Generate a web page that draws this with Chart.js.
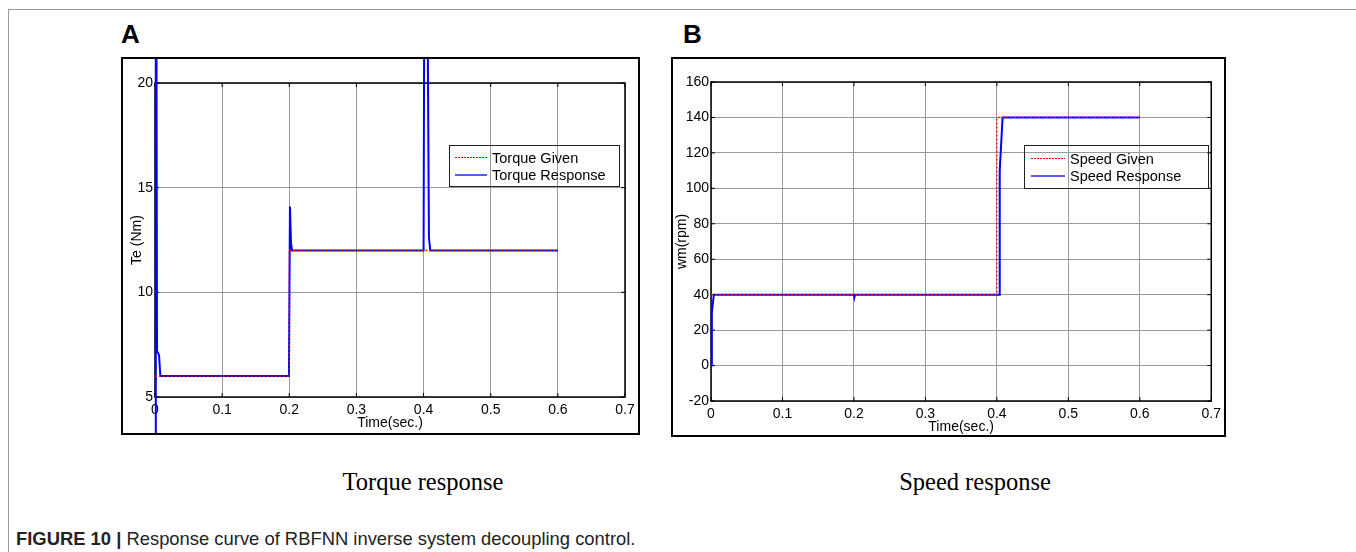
<!DOCTYPE html>
<html>
<head>
<meta charset="utf-8">
<script src="https://cdn.jsdelivr.net/npm/chart.js@4.4.1/dist/chart.umd.min.js"></script>
<style>
body{margin:0;background:#fff;width:1356px;height:552px;position:relative;overflow:hidden;font-family:"Liberation Sans",Arial,sans-serif;color:#000}
#frame{position:absolute;left:8px;top:9px;width:1400px;height:600px;border-top:1px solid #999;border-left:1px solid #999}
canvas{position:absolute}
.box{position:absolute;border:2px solid #000;box-sizing:border-box;pointer-events:none}
.letter{position:absolute;font-weight:bold;font-size:26px;line-height:26px}
.sub{position:absolute;font-family:"Liberation Serif","Times New Roman",serif;font-size:24.5px;width:300px;text-align:center;line-height:26px}
.legend{position:absolute;border:1.5px solid #222;box-sizing:border-box}
.legend .row{position:absolute;left:0;height:16px;font-size:14.5px;line-height:16px;white-space:nowrap}
.legend .smp{position:absolute;top:7px}
#caption{position:absolute;left:16px;top:529px;font-size:18.4px;line-height:20px;color:#222}
</style>
</head>
<body>
<div id="frame"></div>
<div class="letter" style="left:121px;top:21px">A</div>
<div class="letter" style="left:683px;top:21px">B</div>
<canvas id="cA" width="519" height="378" style="left:121px;top:57px"></canvas>
<div class="box" style="left:121px;top:57px;width:519px;height:378px"></div>
<canvas id="cB" width="555" height="380" style="left:671px;top:57px"></canvas>
<div class="box" style="left:671px;top:57px;width:555px;height:380px"></div>
<div id="legA" class="legend" style="left:449px;top:145px;width:171px;height:42px"></div>
<div id="legB" class="legend" style="left:1024px;top:145px;width:185px;height:44px"></div>
<div class="sub" style="left:273px;top:469px">Torque response</div>
<div class="sub" style="left:825px;top:469px">Speed response</div>
<div id="caption"><b>FIGURE 10 |</b> Response curve of RBFNN inverse system decoupling control.</div>
<script>
'use strict'

// values, time in seconds
const torqueLabels = ['Torque Given', 'Torque Response']
const torqueGivenT = [0, 0.2, 0.2, 0.6]
const torqueGivenV = [6, 6, 12, 12]
const torqueRespT = [0, 0.0012, 0.003, 0.006, 0.008, 0.1, 0.1995, 0.201, 0.2025, 0.204, 0.3, 0.4, 0.4012, 0.4055, 0.408, 0.41, 0.6]
const torqueRespV = [-2, 40, 7.2, 7, 6, 6, 6, 14.1, 12.4, 12, 12, 12, 26, 26, 12.6, 12, 12]

const speedLabels = ['Speed Given', 'Speed Response']
const speedGivenT = [0, 0.4, 0.4, 0.6]
const speedGivenV = [40, 40, 140, 140]
const speedRespT = [0, 0.0012, 0.004, 0.2, 0.2006, 0.2015, 0.4035, 0.404, 0.408, 0.6]
const speedRespV = [0, 30, 40, 40, 38.5, 40, 40, 110, 140, 140]

const timeMin = 0, timeMax = 0.7, timeStep = 0.1
const torqueMin = 5, torqueMax = 20, torqueStep = 5
const speedMin = -20, speedMax = 160, speedStep = 20

const givenColor = '#ff0000'
const respColor = '#0000ff'

Chart.defaults.font.family = '"Liberation Sans", Arial, sans-serif'
Chart.defaults.font.size = 14
Chart.defaults.color = '#000'

function toPoints(t, v) {
    return t.map((x, i) => ({x: x, y: v[i]}))
}

// black box round the plot area and the small inner tick marks
const framePlugin = {
    id: 'frame',
    beforeDatasetsDraw(chart) {
        const ctx = chart.ctx
        const a = chart.chartArea
        const sx = chart.scales.x, sy = chart.scales.y
        ctx.save()
        ctx.strokeStyle = '#000'
        ctx.lineWidth = 1.5
        ctx.strokeRect(a.left, a.top, a.right - a.left, a.bottom - a.top)
        ctx.lineWidth = 1
        ctx.beginPath()
        sx.ticks.forEach(t => {
            const p = sx.getPixelForValue(t.value)
            ctx.moveTo(p, a.top); ctx.lineTo(p, a.top + 4)
            ctx.moveTo(p, a.bottom); ctx.lineTo(p, a.bottom - 4)
        })
        sy.ticks.forEach(t => {
            const p = sy.getPixelForValue(t.value)
            ctx.moveTo(a.left, p); ctx.lineTo(a.left + 4, p)
            ctx.moveTo(a.right, p); ctx.lineTo(a.right - 4, p)
        })
        ctx.stroke()
        ctx.restore()
    }
}

function makeChart(id, labels, given, resp, y, geo) {
    return new Chart(document.getElementById(id), {
        type: 'line',
        data: {
            datasets: [{
                label: labels[0],
                data: given,
                borderColor: givenColor,
                borderWidth: 1.2,
                borderDash: [2, 2],
                pointRadius: 0,
                clip: geo.clip
            }, {
                label: labels[1],
                data: resp,
                borderColor: respColor,
                borderWidth: 2,
                pointRadius: 0,
                clip: geo.clip
            }]
        },
        options: {
            responsive: false,
            animation: false,
            devicePixelRatio: 1,
            layout: {padding: {left: 0, top: geo.top, right: geo.right, bottom: 0}},
            plugins: {legend: {display: false}, tooltip: {enabled: false}},
            elements: {line: {tension: 0}},
            scales: {
                x: {
                    type: 'linear',
                    min: timeMin, max: timeMax,
                    ticks: {stepSize: timeStep, padding: 5, maxRotation: 0,
                        callback: v => String(+v.toFixed(1))},
                    grid: {color: '#9a9a9a', lineWidth: 1, drawTicks: false},
                    border: {display: false},
                    title: {display: true, text: 'Time(sec.)', font: {size: 14}, padding: {top: 0, bottom: geo.xTitlePad}},
                    afterFit: s => { s.height = geo.xh }
                },
                y: {
                    min: y.min, max: y.max,
                    ticks: {stepSize: y.step, padding: 2},
                    grid: {color: '#9a9a9a', lineWidth: 1, drawTicks: false},
                    border: {display: false},
                    title: {display: true, text: y.title, font: {size: 14}, padding: {top: geo.yTitlePad, bottom: 0}},
                    afterFit: s => { s.width = geo.yw }
                }
            }
        },
        plugins: [framePlugin]
    })
}

function makeLegend(id, labels, geo) {
    const box = document.getElementById(id)
    const fills = [
        'repeating-linear-gradient(90deg, ' + givenColor + ' 0 2px, transparent 2px 3px)',
        '#5a5aff'
    ]
    const heights = ['1px', '2px']
    labels.forEach((lab, i) => {
        const row = document.createElement('div')
        row.className = 'row'
        row.style.top = geo.rows[i] + 'px'
        row.style.width = '100%'
        const smp = document.createElement('div')
        smp.className = 'smp'
        smp.style.left = geo.smpLeft + 'px'
        smp.style.width = geo.smpWidth + 'px'
        smp.style.height = heights[i]
        smp.style.background = fills[i]
        const txt = document.createElement('span')
        txt.textContent = lab
        txt.style.position = 'absolute'
        txt.style.left = geo.textLeft + 'px'
        row.appendChild(smp)
        row.appendChild(txt)
        box.appendChild(row)
    })
}

makeChart('cA', torqueLabels,
    toPoints(torqueGivenT, torqueGivenV), toPoints(torqueRespT, torqueRespV),
    {min: torqueMin, max: torqueMax, step: torqueStep, title: 'Te (Nm)'},
    {top: 26, right: 15, xh: 38, yw: 34, xTitlePad: 3, yTitlePad: 8, clip: {left: 5, top: 26, right: 5, bottom: 38}})

makeChart('cB', speedLabels,
    toPoints(speedGivenT, speedGivenV), toPoints(speedRespT, speedRespV),
    {min: speedMin, max: speedMax, step: speedStep, title: 'wm(rpm)'},
    {top: 25, right: 11, xh: 36, yw: 40, xTitlePad: 1, yTitlePad: 3, clip: {left: 5, top: 25, right: 5, bottom: 36}})

makeLegend('legA', torqueLabels, {rows: [4, 21], smpLeft: 5, smpWidth: 32, textLeft: 42})
makeLegend('legB', speedLabels, {rows: [5, 22], smpLeft: 6, smpWidth: 34, textLeft: 45})
</script>
</body>
</html>
